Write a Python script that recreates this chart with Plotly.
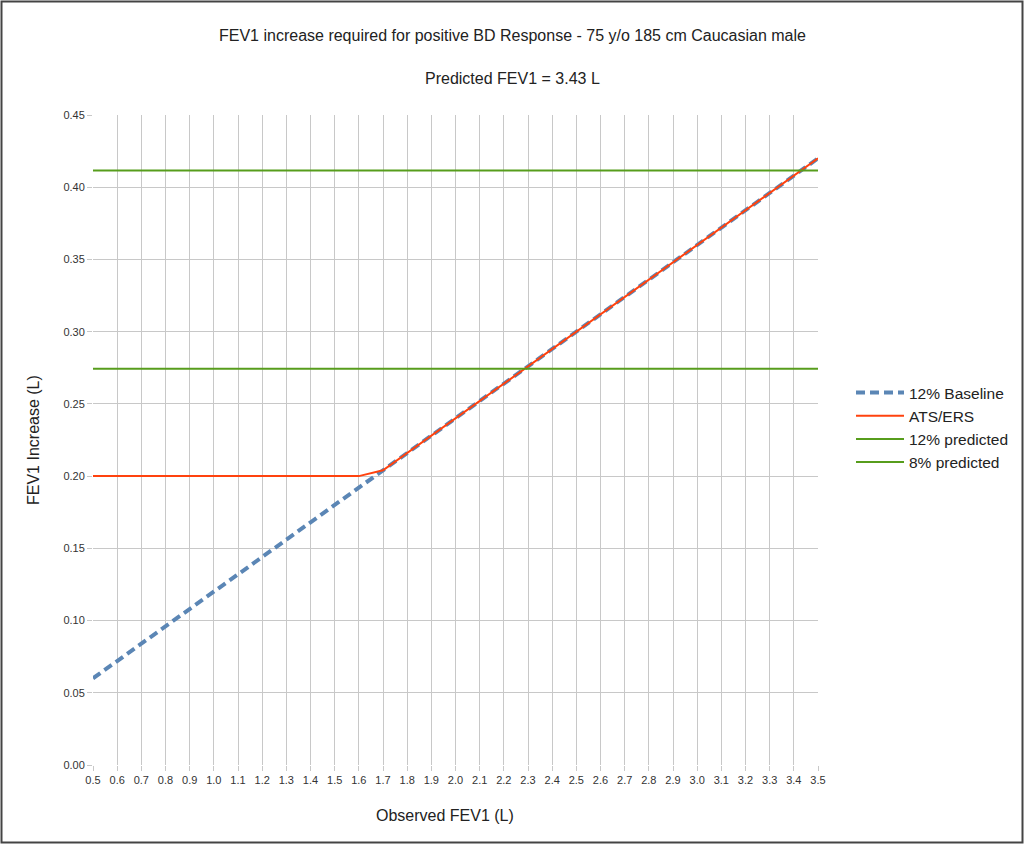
import plotly.graph_objects as go

# Observed FEV1 (L)
fev1_observed = [0.5, 0.6, 0.7, 0.8, 0.9, 1.0, 1.1, 1.2, 1.3, 1.4, 1.5,
                 1.6, 1.7, 1.8, 1.9, 2.0, 2.1, 2.2, 2.3, 2.4, 2.5,
                 2.6, 2.7, 2.8, 2.9, 3.0, 3.1, 3.2, 3.3, 3.4, 3.5]

# 12% of baseline FEV1
baseline_12 = [0.060, 0.072, 0.084, 0.096, 0.108, 0.120, 0.132, 0.144, 0.156, 0.168, 0.180,
               0.192, 0.204, 0.216, 0.228, 0.240, 0.252, 0.264, 0.276, 0.288, 0.300,
               0.312, 0.324, 0.336, 0.348, 0.360, 0.372, 0.384, 0.396, 0.408, 0.420]

# ATS/ERS: 12% and at least 200 mL
ats_ers = [0.200, 0.200, 0.200, 0.200, 0.200, 0.200, 0.200, 0.200, 0.200, 0.200, 0.200,
           0.200, 0.204, 0.216, 0.228, 0.240, 0.252, 0.264, 0.276, 0.288, 0.300,
           0.312, 0.324, 0.336, 0.348, 0.360, 0.372, 0.384, 0.396, 0.408, 0.420]

predicted_fev1 = 3.43
pred_12 = [0.4116] * len(fev1_observed)
pred_8 = [0.2744] * len(fev1_observed)

W, H = 1024, 844
L, R, T, B = 93, 206, 115, 79
pw, ph = W - L - R, H - T - B

fig = go.Figure()
fig.add_trace(go.Scatter(x=fev1_observed, y=baseline_12, mode='lines', name='12% Baseline',
                         line=dict(color='#5b86b5', width=4, dash='9px,5px')))
fig.add_trace(go.Scatter(x=fev1_observed, y=ats_ers, mode='lines', name='ATS/ERS',
                         line=dict(color='#ff420e', width=2)))
fig.add_trace(go.Scatter(x=fev1_observed, y=pred_12, mode='lines', name='12% predicted',
                         line=dict(color='#579d1c', width=2)))
fig.add_trace(go.Scatter(x=fev1_observed, y=pred_8, mode='lines', name='8% predicted',
                         line=dict(color='#579d1c', width=2)))

axis_common = dict(showgrid=True, gridcolor='#c8c8c8', gridwidth=1, zeroline=False,
                   showline=False, ticks='outside', ticklen=5, tickcolor='#c8c8c8',
                   tickfont=dict(size=11, color='#333333', family='Liberation Sans'))

fig.update_layout(
    width=W, height=H,
    margin=dict(l=L, r=R, t=T, b=B, autoexpand=False),
    paper_bgcolor='white', plot_bgcolor='white',
    font=dict(family='Liberation Sans', color='#222222'),
    xaxis=dict(range=[0.5, 3.5], dtick=0.1, tick0=0.5, tickformat='.1f', **axis_common),
    yaxis=dict(range=[0, 0.45], dtick=0.05, tickformat='.2f', **axis_common),
    showlegend=True,
    legend=dict(x=(851 - L) / pw, y=1 - (376 - T) / ph, xanchor='left', yanchor='top',
                font=dict(size=15.5, color='#222222'), tracegroupgap=0, itemwidth=48,
                bgcolor='rgba(0,0,0,0)'),
)

fig.add_annotation(text='FEV1 increase required for positive BD Response - 75 y/o 185 cm Caucasian male',
                   xref='paper', yref='paper', x=(512 - L) / pw, y=1 + (T - 36) / ph,
                   showarrow=False, font=dict(size=16), xanchor='center', yanchor='middle')
fig.add_annotation(text=f'Predicted FEV1 = {predicted_fev1} L',
                   xref='paper', yref='paper', x=(512 - L) / pw, y=1 + (T - 78) / ph,
                   showarrow=False, font=dict(size=16), xanchor='center', yanchor='middle')
fig.add_annotation(text='Observed FEV1 (L)', xref='paper', yref='paper',
                   x=(445 - L) / pw, y=-(815 - T - ph) / ph,
                   showarrow=False, font=dict(size=16), xanchor='center', yanchor='middle')
fig.add_annotation(text='FEV1 Increase (L)', xref='paper', yref='paper',
                   x=-(L - 33) / pw, y=1 - (440 - T) / ph, textangle=-90,
                   showarrow=False, font=dict(size=16), xanchor='center', yanchor='middle')

# outer frame of the picture
fig.add_shape(type='rect', xref='paper', yref='paper',
              x0=-(L - 1.5) / pw, x1=(W - L - 1.5) / pw,
              y0=-(B - 1.5) / ph, y1=1 + (T - 1.5) / ph,
              line=dict(color='#444444', width=2))

fig.write_html("out.html", config={'displayModeBar': False},
               post_script="document.body.style.margin='0px';")
